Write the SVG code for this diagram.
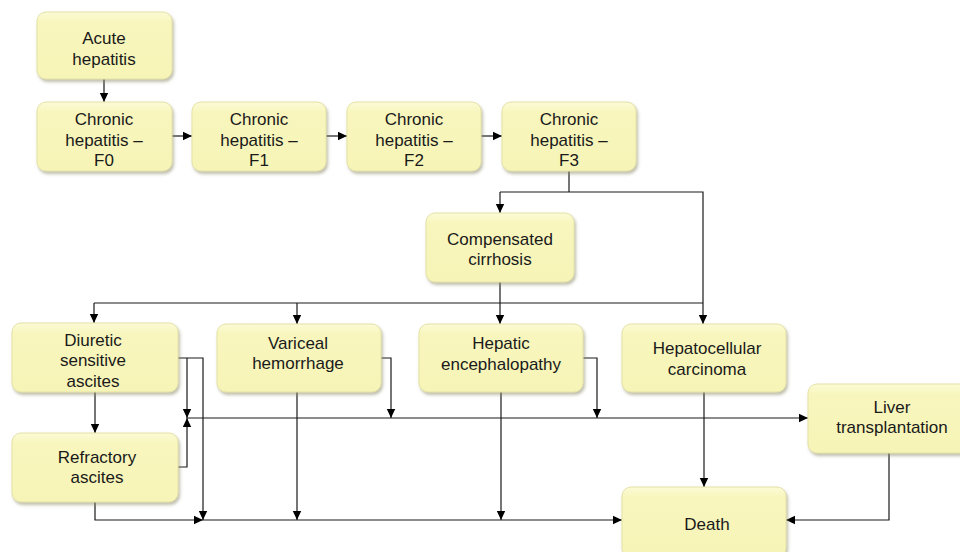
<svg xmlns="http://www.w3.org/2000/svg" width="960" height="552" viewBox="0 0 960 552">
<style>
.box{fill:url(#g);stroke:#e4e2a6;stroke-width:1;filter:url(#sh)}
.t{font-family:"Liberation Sans",Arial,sans-serif;font-size:17px;fill:#1a1a1a;text-anchor:middle;dominant-baseline:central}
.c{fill:none;stroke:#1a1a1a;stroke-width:1.2}
</style>
<defs>
<linearGradient id="g" x1="0" y1="0" x2="0" y2="1">
<stop offset="0" stop-color="#fbfad6"/>
<stop offset="0.15" stop-color="#f8f6bd"/>
<stop offset="1" stop-color="#f6f4b6"/>
</linearGradient>
<filter id="sh" x="-10%" y="-10%" width="125%" height="130%">
<feDropShadow dx="1.5" dy="2.5" stdDeviation="1.5" flood-color="#8a8866" flood-opacity="0.55"/>
</filter>
<marker id="a" markerWidth="10" markerHeight="10" refX="9" refY="5" orient="auto" markerUnits="userSpaceOnUse">
<path d="M0,0.8 L9,5 L0,9.2 Z" fill="#000"/>
</marker>
</defs>
<rect width="960" height="552" fill="#fff"/>
<g id="connectors">
<path class="c" d="M104,79 V102" marker-end="url(#a)"/>
<path class="c" d="M172,136 H192" marker-end="url(#a)"/>
<path class="c" d="M326,136 H347" marker-end="url(#a)"/>
<path class="c" d="M481,136 H502" marker-end="url(#a)"/>
<path class="c" d="M569,171 V192"/>
<path class="c" d="M500,192 V213" marker-end="url(#a)"/>
<path class="c" d="M500,192 H703 V324" marker-end="url(#a)"/>
<path class="c" d="M500,282 V324" marker-end="url(#a)"/>
<path class="c" d="M94,303 H703"/>
<path class="c" d="M94,303 V323" marker-end="url(#a)"/>
<path class="c" d="M297,303 V324" marker-end="url(#a)"/>
<path class="c" d="M95,392 V433" marker-end="url(#a)"/>
<path class="c" d="M178,358 H203 V520" marker-end="url(#a)"/>
<path class="c" d="M187,358 V418" marker-end="url(#a)"/>
<path class="c" d="M178,467 H187 V418" marker-end="url(#a)"/>
<path class="c" d="M187,418 H808" marker-end="url(#a)"/>
<path class="c" d="M95,502 V520 H203" marker-end="url(#a)"/>
<path class="c" d="M381,358 H391 V418" marker-end="url(#a)"/>
<path class="c" d="M297,392 V520" marker-end="url(#a)"/>
<path class="c" d="M583,358 H597 V418" marker-end="url(#a)"/>
<path class="c" d="M501,392 V520" marker-end="url(#a)"/>
<path class="c" d="M203,520 H622" marker-end="url(#a)"/>
<path class="c" d="M704,392 V487" marker-end="url(#a)"/>
<path class="c" d="M889,453 V520 H786" marker-end="url(#a)"/>
</g>
<g id="acute"><rect class="box" x="37" y="12" width="135" height="67" rx="9"/><text class="t" x="104" y="38">Acute</text><text class="t" x="104" y="59">hepatitis</text></g>
<g id="f0"><rect class="box" x="37" y="102" width="135" height="69" rx="9"/><text class="t" x="104" y="119">Chronic</text><text class="t" x="104" y="140">hepatitis –</text><text class="t" x="104" y="160">F0</text></g>
<g id="f1"><rect class="box" x="192" y="102" width="134" height="69" rx="9"/><text class="t" x="259" y="119">Chronic</text><text class="t" x="259" y="140">hepatitis –</text><text class="t" x="259" y="160">F1</text></g>
<g id="f2"><rect class="box" x="347" y="102" width="134" height="69" rx="9"/><text class="t" x="414" y="119">Chronic</text><text class="t" x="414" y="140">hepatitis –</text><text class="t" x="414" y="160">F2</text></g>
<g id="f3"><rect class="box" x="502" y="102" width="134" height="69" rx="9"/><text class="t" x="569" y="119">Chronic</text><text class="t" x="569" y="140">hepatitis –</text><text class="t" x="569" y="160">F3</text></g>
<g id="cirrhosis"><rect class="box" x="426" y="213" width="148" height="69" rx="9"/><text class="t" x="500" y="239">Compensated</text><text class="t" x="500" y="259">cirrhosis</text></g>
<g id="diuretic"><rect class="box" x="12" y="323" width="166" height="69" rx="9"/><text class="t" x="93" y="340">Diuretic</text><text class="t" x="93" y="360">sensitive</text><text class="t" x="93" y="381">ascites</text></g>
<g id="refractory"><rect class="box" x="12" y="433" width="166" height="69" rx="9"/><text class="t" x="97" y="457">Refractory</text><text class="t" x="97" y="477">ascites</text></g>
<g id="variceal"><rect class="box" x="217" y="324" width="164" height="68" rx="9"/><text class="t" x="298" y="343">Variceal</text><text class="t" x="298" y="363">hemorrhage</text></g>
<g id="hepatic"><rect class="box" x="419" y="324" width="164" height="68" rx="9"/><text class="t" x="501" y="343">Hepatic</text><text class="t" x="501" y="364">encephalopathy</text></g>
<g id="hcc"><rect class="box" x="622" y="324" width="164" height="68" rx="9"/><text class="t" x="707" y="348">Hepatocellular</text><text class="t" x="707" y="369">carcinoma</text></g>
<g id="liver"><rect class="box" x="808" y="384" width="164" height="69" rx="9"/><text class="t" x="892" y="407">Liver</text><text class="t" x="892" y="427">transplantation</text></g>
<g id="death"><rect class="box" x="622" y="487" width="164" height="70" rx="9"/><text class="t" x="707" y="524">Death</text></g>
</svg>
